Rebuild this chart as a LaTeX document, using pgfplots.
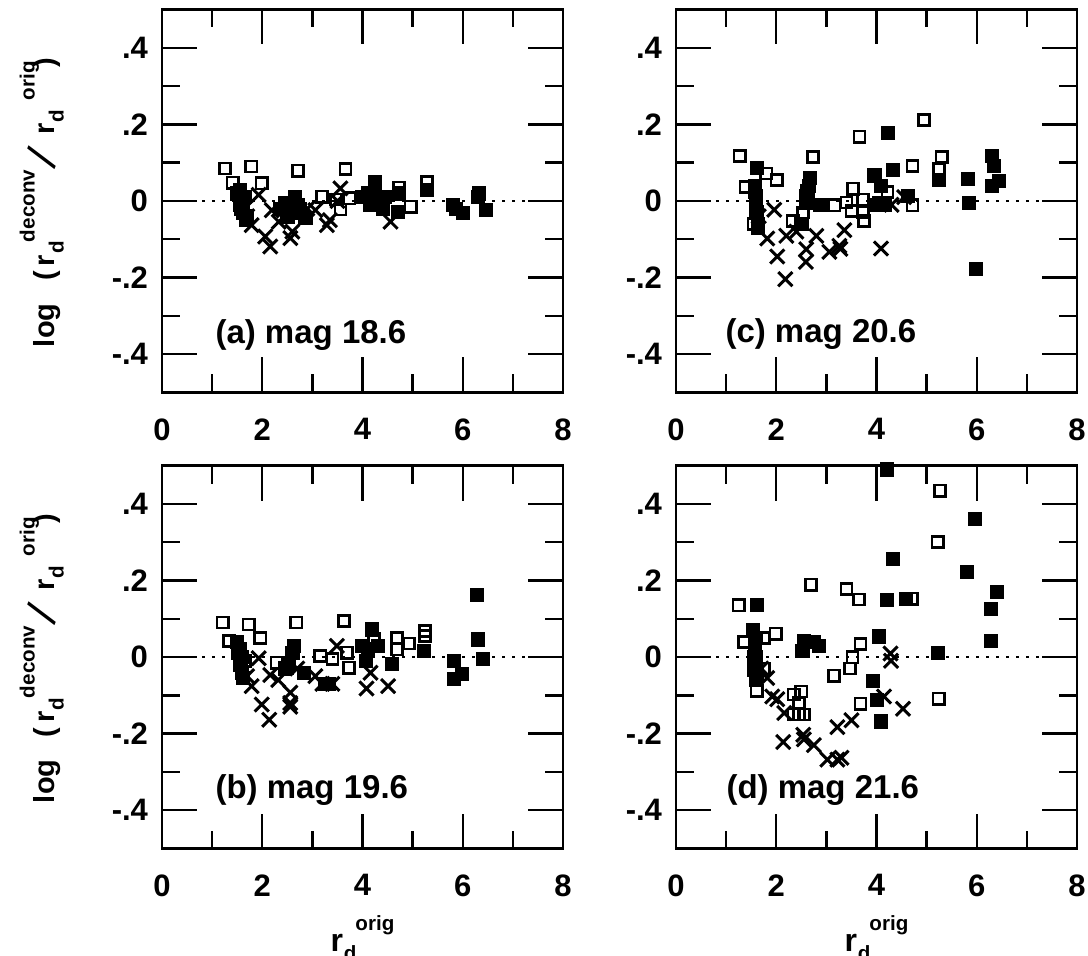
\documentclass[border=0pt]{standalone}
\usepackage{fontspec}
\setmainfont{Liberation Sans}
\usepackage{graphicx}
\usepackage{pgfplots}
\pgfplotsset{compat=1.18}

\newcommand{\supf}{\fontsize{10.3}{10.3}\selectfont\bfseries}
\newcommand{\rdsup}[1]{r\kern0.4pt\raisebox{-4.5pt}{\supf d}\kern-0.5pt\raisebox{10.5pt}{\supf #1}}
\newcommand{\atx}[2]{\makebox[0pt][l]{\kern#1\relax #2}}
\newcommand{\ylabtext}{%
  \atx{0pt}{log}%
  \atx{33pt}{(}%
  \atx{40.5pt}{r}%
  \atx{46.5pt}{\raisebox{-4.5pt}{\supf d}}%
  \atx{52.5pt}{\raisebox{10pt}{\supf deconv}}%
  \atx{88.5pt}{\raisebox{-1.5pt}{\scalebox{1.55}{\rotatebox[origin=c]{-22}{\mdseries /}}}}%
  \atx{106.5pt}{r}%
  \atx{112.5pt}{\raisebox{-4.5pt}{\supf d}}%
  \atx{123.5pt}{\raisebox{10pt}{\supf orig}}%
  \atx{140pt}{)}%
  \kern146pt\relax}

\tikzset{plab/.style={font=\fontsize{16.5}{16.5}\selectfont\bfseries, anchor=base west, inner sep=0pt}}

\pgfplotsset{
  panel/.style={
    width=200.5pt, height=191.5pt, scale only axis,
    xmin=0, xmax=8, ymin=-0.5, ymax=0.5,
    xtick={0,2,4,6,8}, xticklabels={0,2,4,6,8},
    ytick={-0.4,-0.2,0,0.2,0.4}, yticklabels={-.4,-.2,0,.2,.4},
    minor xtick={1,3,5,7}, minor ytick={-0.3,-0.1,0.1,0.3},
    tick align=inside,
    major tick length=17.5pt, minor tick length=9pt,
    tick style={black, line width=1.2pt},
    axis line style={line width=1.4pt},
    tick label style={font=\fontsize{15.5}{15.5}\selectfont\bfseries},
    xticklabel style={yshift=-9.5pt},
    yticklabel style={xshift=-3.5pt},
    anchor=south west,
  },
  fsq/.style={only marks, mark=square*, mark size=3.3pt, mark options={fill=black, draw=black, line width=0.4pt}},
  osq/.style={only marks, mark=square, mark size=2.8pt, mark options={draw=black, line width=1.3pt}},
  xx/.style={only marks, mark=x, mark size=5pt, mark options={draw=black, line width=1.5pt}},
  zl/.style={black, line width=1.4pt, dash pattern=on 1.6pt off 3.4pt},
  ylab/.style={ylabel={\ylabtext},
    ylabel style={at={(axis description cs:-0.268,0.5)}, anchor=base, inner sep=0pt, font=\fontsize{14.5}{14.5}\selectfont\bfseries}},
  xlab/.style={xlabel={\rdsup{orig}},
    xlabel style={at={(axis description cs:0.5,-0.268)}, anchor=base, font=\fontsize{16}{16}\selectfont\bfseries}},
}

\begin{document}
\begin{tikzpicture}
\path[use as bounding box] (0,0) rectangle (544pt,477.5pt);

% (a)
\begin{axis}[panel, ylab, at={(81pt,281.25pt)}]
\addplot[zl] coordinates {(0,0) (8,0)};
\addplot[fsq] coordinates {
(1.50,0.02) (1.55,0.03) (1.60,0.00) (1.55,-0.01) (1.62,-0.03) (1.58,-0.02) (1.65,0.01) (1.70,-0.04) (1.67,-0.05)
(2.35,-0.02) (2.45,-0.01) (2.55,-0.03) (2.65,0.01) (2.70,-0.01) (2.50,-0.04) (2.62,-0.03) (2.86,-0.045)
(4.00,0.01) (4.10,0.02) (4.15,-0.01) (4.25,0.03) (4.30,0.00) (4.40,-0.02) (4.45,0.01) (4.25,0.045)
(4.70,-0.028) (4.73,0.02) (5.29,0.03)
(5.80,-0.01) (5.86,-0.02) (6.00,-0.032) (6.32,0.02) (6.30,0.01) (6.46,-0.024)
};
\addplot[osq] coordinates {
(1.26,0.085) (1.41,0.048) (1.78,0.090) (1.99,0.046) (2.71,0.079) (3.66,0.084) (3.19,0.011) (3.47,0.004)
(3.74,0.007) (3.56,-0.022) (4.96,-0.015) (4.73,0.035) (4.25,0.05) (5.29,0.05) (2.45,-0.005) (1.60,-0.01) (2.75,-0.02)
};
\addplot[xx] coordinates {
(1.93,0.016) (1.79,-0.063) (2.06,-0.093) (2.16,-0.119) (2.33,-0.054) (2.56,-0.097) (2.60,-0.08) (2.19,-0.024)
(3.06,-0.024) (3.29,-0.063) (3.35,-0.05) (3.56,0.033) (3.50,0.0) (4.56,-0.054) (1.70,-0.04) (1.65,-0.02) (2.90,-0.02)
};
\node[plab] at (axis cs:1.06,-0.373) {(a) mag 18.6};
\end{axis}

% (b)
\begin{axis}[panel, ylab, xlab, at={(81pt,53.25pt)}]
\addplot[zl] coordinates {(0,0) (8,0)};
\addplot[fsq] coordinates {
(1.50,0.04) (1.55,0.02) (1.60,0.00) (1.55,-0.02) (1.60,-0.04) (1.62,-0.055) (1.52,0.01) (1.58,-0.01)
(2.63,0.029) (2.60,0.01) (2.53,-0.016) (2.45,-0.03) (2.83,-0.041) (3.25,-0.07) (3.32,-0.07)
(4.19,0.072) (4.00,0.03) (4.07,-0.01) (4.30,0.03) (4.59,-0.019) (5.23,0.016) (5.83,-0.01) (5.83,-0.058)
(5.99,-0.044) (6.28,0.162) (6.31,0.046) (6.41,-0.004) (4.10,0.02)
};
\addplot[osq] coordinates {
(1.21,0.09) (1.34,0.042) (1.73,0.085) (1.96,0.05) (2.68,0.09) (3.63,0.094) (2.29,-0.015) (3.16,0.003)
(3.40,-0.005) (3.69,0.011) (3.73,-0.028) (4.23,0.046) (4.69,0.05) (4.69,0.02) (4.93,0.035) (5.25,0.068)
(5.25,0.055) (1.65,-0.01) (2.50,-0.03)
};
\addplot[xx] coordinates {
(1.93,-0.003) (1.79,-0.076) (1.99,-0.124) (2.14,-0.164) (2.16,-0.047) (2.32,-0.06) (2.56,-0.093) (2.56,-0.12)
(2.56,-0.13) (1.70,-0.05) (3.06,-0.05) (3.40,-0.07) (3.49,0.029) (4.16,-0.041) (4.08,-0.082) (4.51,-0.076)
(3.20,-0.07) (2.70,-0.03)
};
\node[plab] at (axis cs:1.06,-0.37) {(b) mag 19.6};
\end{axis}

% (c)
\begin{axis}[panel, at={(338pt,281.25pt)}]
\addplot[zl] coordinates {(0,0) (8,0)};
\addplot[fsq] coordinates {
(1.62,0.087) (1.57,0.039) (1.60,0.013) (1.60,-0.005) (1.64,-0.061) (1.64,-0.07) (1.58,0.025) (1.62,-0.03)
(2.67,0.061) (2.65,0.04) (2.60,0.013) (2.60,-0.004) (2.88,-0.011) (2.50,-0.06) (2.62,0.025)
(4.22,0.177) (4.32,0.081) (3.96,0.067) (4.08,0.04) (4.05,-0.004) (4.16,-0.01) (4.00,-0.01) (4.62,0.013)
(5.25,0.055) (5.82,0.058) (5.85,-0.004) (5.98,-0.177) (6.31,0.117) (6.35,0.092) (6.45,0.052) (6.30,0.04)
};
\addplot[osq] coordinates {
(1.27,0.117) (1.80,0.072) (2.01,0.055) (1.39,0.037) (1.60,0.0) (1.60,-0.03) (2.73,0.115) (3.66,0.168)
(4.95,0.211) (4.72,0.091) (5.30,0.115) (5.25,0.083) (3.16,-0.011) (3.40,-0.004) (3.53,0.032) (3.73,0.004)
(3.50,-0.026) (3.73,-0.03) (3.75,-0.052) (2.33,-0.052) (2.53,-0.03) (4.22,0.023) (4.72,-0.011) (1.55,-0.06)
};
\addplot[xx] coordinates {
(1.96,-0.023) (1.82,-0.098) (2.02,-0.145) (2.18,-0.204) (2.20,-0.091) (2.60,-0.126) (2.59,-0.159) (2.40,-0.08)
(2.80,-0.091) (3.06,-0.133) (3.26,-0.117) (3.28,-0.125) (3.36,-0.076) (4.09,-0.124) (4.30,-0.01) (4.55,0.01) (1.65,-0.04)
};
\node[plab] at (axis cs:0.98,-0.37) {(c) mag 20.6};
\end{axis}

% (d)
\begin{axis}[panel, xlab, at={(338pt,53.25pt)}]
\addplot[zl] coordinates {(0,0) (8,0)};
\addplot[fsq] coordinates {
(1.61,0.137) (1.53,0.07) (1.60,0.05) (1.60,0.0) (1.60,-0.03) (1.60,-0.06) (1.58,0.03) (1.62,-0.045)
(2.55,0.043) (2.75,0.04) (2.85,0.030) (2.52,0.016) (4.32,0.257) (4.20,0.15) (4.59,0.152) (4.05,0.054)
(3.93,-0.063) (4.01,-0.111) (4.08,-0.168) (5.23,0.01) (5.97,0.361) (5.80,0.222) (6.41,0.17) (6.28,0.126)
(6.28,0.043) (4.21,0.49)
};
\addplot[osq] coordinates {
(1.25,0.135) (1.36,0.039) (1.99,0.061) (1.75,0.05) (1.55,0.0) (1.56,-0.033) (1.75,-0.03) (1.61,-0.088)
(2.69,0.189) (3.40,0.178) (3.65,0.15) (4.71,0.152) (5.22,0.30) (5.24,-0.109) (3.68,0.034) (3.52,-0.001)
(3.47,-0.03) (3.15,-0.049) (3.68,-0.122) (2.35,-0.098) (2.50,-0.09) (2.35,-0.15) (2.45,-0.15) (2.55,-0.15)
(2.45,-0.12) (5.27,0.434)
};
\addplot[xx] coordinates {
(1.82,-0.055) (1.92,-0.103) (2.02,-0.11) (2.16,-0.146) (2.14,-0.222) (2.54,-0.203) (2.55,-0.215) (2.75,-0.23)
(3.02,-0.268) (3.22,-0.268) (3.30,-0.263) (3.22,-0.183) (3.50,-0.165) (4.28,0.009) (4.29,-0.01) (4.15,-0.103)
(4.53,-0.135) (1.70,-0.03)
};
\node[plab] at (axis cs:1.0,-0.37) {(d) mag 21.6};
\end{axis}
\end{tikzpicture}
\end{document}
